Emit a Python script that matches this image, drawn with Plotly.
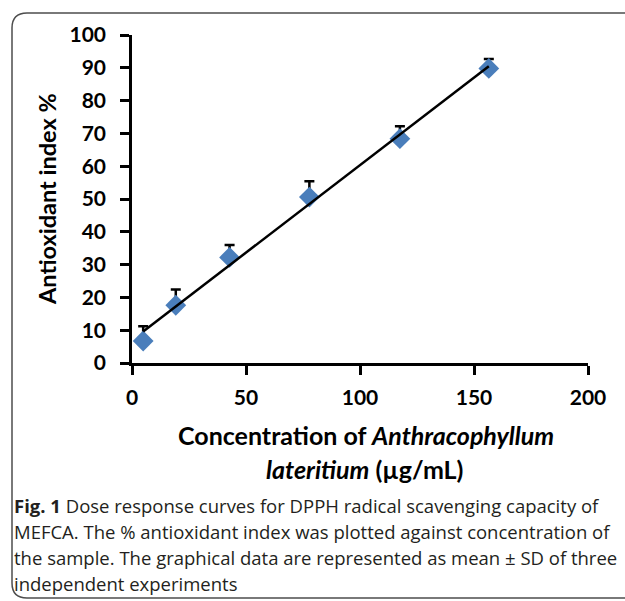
import numpy as np
import plotly.graph_objects as go

# ---- data ----
concentration = [4.9, 19.2, 42.8, 77.8, 117.5, 156.5]
antioxidant = [6.7, 17.6, 32.2, 50.6, 68.4, 89.8]
sd = [4.5, 4.8, 3.8, 4.8, 3.8, 2.9]
x_ticks = [0, 50, 100, 150, 200]
y_ticks = [0, 10, 20, 30, 40, 50, 60, 70, 80, 90, 100]

caption_lines = [
    "<b>Fig. 1</b> Dose response curves for DPPH radical scavenging capacity of",
    "MEFCA. The % antioxidant index was plotted against concentration of",
    "the sample. The graphical data are represented as mean ± SD of three",
    "independent experiments",
]

W, H = 625, 601
L, R, T, B = 132, 37, 35, 238
PW, PH = W - L - R, H - T - B


def px(xp):
    return (xp - L) / PW


def py(yp):
    return (H - B - yp) / PH


# linear trend line fitted to the data
slope, intercept = np.polyfit(concentration, antioxidant, 1)
trend_x = [min(concentration), max(concentration)]
trend_y = [slope * v + intercept for v in trend_x]

fig = go.Figure()
fig.add_trace(go.Scatter(
    x=concentration, y=antioxidant, mode="markers",
    marker=dict(symbol="diamond", size=16, color="#4A7EBB"),
    error_y=dict(type="data", symmetric=False, array=sd,
                 arrayminus=[0] * len(sd), color="black", thickness=2.5, width=5),
    showlegend=False,
))
fig.add_trace(go.Scatter(
    x=trend_x, y=trend_y, mode="lines",
    line=dict(color="black", width=2.5), showlegend=False,
))

tickfont = dict(family="Lato", size=21, color="black", weight="bold")
fig.update_xaxes(range=[0, 200], tickvals=x_ticks, showline=True, linecolor="black",
                 linewidth=2.5, ticks="outside", ticklen=9, tickwidth=2.5,
                 tickcolor="black", showgrid=False, zeroline=False,
                 tickfont=tickfont, ticklabelstandoff=5)
fig.update_yaxes(range=[0, 100], tickvals=y_ticks, showline=True, linecolor="black",
                 linewidth=2.5, ticks="outside", ticklen=9, tickwidth=2.5,
                 tickcolor="black", showgrid=False, zeroline=False,
                 tickfont=tickfont, ticklabelstandoff=10)

annotations = []
titlefont = dict(family="Lato", size=23.5, color="black", weight="bold")
annotations.append(dict(text="Antioxidant index %", textangle=-90, x=px(47), y=py(199),
                        xref="paper", yref="paper", showarrow=False, font=titlefont,
                        xanchor="center", yanchor="middle"))
xtfont = dict(family="Lato", size=25, color="black", weight="bold")
annotations.append(dict(text="Concentration of <i>Anthracophyllum</i>", x=px(366), y=py(435),
                        xref="paper", yref="paper", showarrow=False, font=xtfont,
                        xanchor="center", yanchor="middle"))
annotations.append(dict(text="<i>lateritium</i> (µg/mL)", x=px(364), y=py(469),
                        xref="paper", yref="paper", showarrow=False, font=xtfont,
                        xanchor="center", yanchor="middle"))
capfont = dict(family="Open Sans", size=18.5, color="#231f20")
cap_y = [505, 531, 557, 583]
for line, yy in zip(caption_lines, cap_y):
    annotations.append(dict(text=line, x=px(12), y=py(yy), xref="paper", yref="paper",
                            showarrow=False, font=capfont, xanchor="left",
                            yanchor="middle", align="left"))

# rounded border frame
x0, x1, y0, y1, r = 12, 640, 13, 598, 15
path = (f"M {px(x0)},{py(y0 + r)} Q {px(x0)},{py(y0)} {px(x0 + r)},{py(y0)} "
        f"L {px(x1)},{py(y0)} L {px(x1)},{py(y1)} L {px(x0 + r)},{py(y1)} "
        f"Q {px(x0)},{py(y1)} {px(x0)},{py(y1 - r)} Z")

fig.update_layout(
    width=W, height=H, margin=dict(l=L, r=R, t=T, b=B),
    plot_bgcolor="white", paper_bgcolor="white",
    annotations=annotations,
    shapes=[dict(type="path", path=path, xref="paper", yref="paper",
                 line=dict(color="#4d4d4d", width=1.5), layer="below")],
)

fig.write_html("out.html", config={"displayModeBar": False},
               post_script="document.body.style.margin='0px';document.body.style.overflow='hidden';")
